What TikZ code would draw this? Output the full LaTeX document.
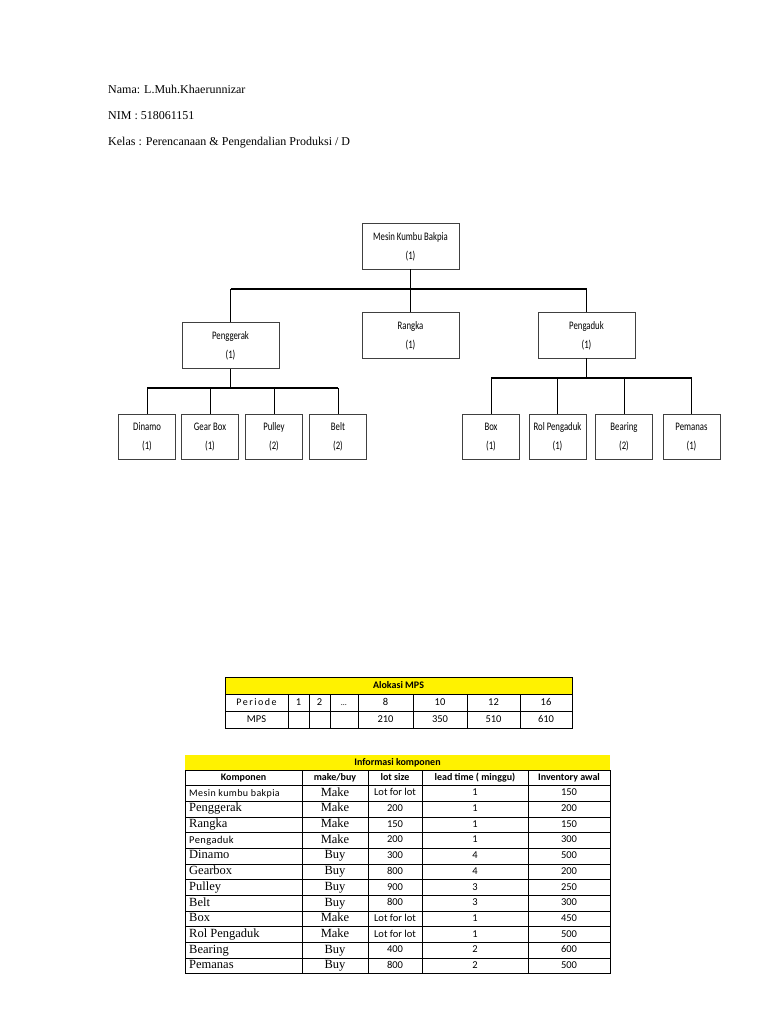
\documentclass[tikz,border=0pt]{standalone}
\usepackage{fontspec}
\setmainfont{Liberation Serif}
\newfontfamily\calibri{Carlito}
\newfontfamily\calibrisp[LetterSpace=4]{Carlito}
\newfontfamily\calibriper[LetterSpace=15]{Carlito}
\newfontfamily\calibrinar[FakeStretch=0.76]{Carlito}
\tikzset{
  part/.style={draw=black!75, line width=0.8pt, align=center, inner sep=0pt,
    font=\calibrinar\fontsize{11.5}{19}\selectfont},
  bigpart/.style={part, minimum width=97pt, minimum height=46pt},
  leaf/.style={part, minimum width=57pt, minimum height=45pt},
  stem/.style={line width=0.8pt},
  bus/.style={line width=1.7pt},
  cell/.style={inner sep=0pt, text height=7pt, text depth=2pt,
    font=\calibri\fontsize{10.5}{12}\selectfont},
  hcell/.style={cell, font=\calibri\bfseries\fontsize{10}{12}\selectfont},
  tcell/.style={inner sep=0pt, text height=8.5pt, text depth=3pt,
    font=\fontsize{12.5}{14}\selectfont},
  grid/.style={line width=0.7pt}
}
\begin{document}
\begin{tikzpicture}[x=1pt,y=-1pt]
  \useasboundingbox[fill=white] (0,0) rectangle (768,1024);

  % identitas
  \node[anchor=west, inner sep=0pt, font=\fontsize{12}{14}\selectfont] (nama) at (108,89) {Nama: L.Muh.Khaerunnizar};
  \node[anchor=west, inner sep=0pt, font=\fontsize{12}{14}\selectfont] (nim) at (108,116) {NIM : 518061151};
  \node[anchor=west, inner sep=0pt, font=\fontsize{12}{14}\selectfont] (kelas) at (108,143) {Kelas : Perencanaan \& Pengendalian Produksi / D};

  % struktur produk
  \node[bigpart] (mesin) at (410.5,246) {\strut Mesin Kumbu Bakpia\\\strut(1)};
  \node[bigpart] (penggerak) at (230.5,345.5) {\strut Penggerak\\\strut(1)};
  \node[bigpart] (rangka) at (410.5,335) {\strut Rangka\\\strut(1)};
  \node[bigpart] (pengaduk) at (586.5,335) {\strut Pengaduk\\\strut(1)};
  \foreach \n/\t/\q/\x in {dinamo/Dinamo/1/147, gearbox/Gear Box/1/210, pulley/Pulley/2/274, belt/Belt/2/338,
      box/Box/1/491, rol/Rol Pengaduk/1/557.5, bearing/Bearing/2/624, pemanas/Pemanas/1/691.5} {
    \node[leaf] (\n) at (\x,436.5) {\strut\t\\\strut(\q)};
  }

  % garis penghubung
  \coordinate (bus0) at (0,289);
  \coordinate (bus1) at (0,388);
  \coordinate (bus2) at (0,378);
  \draw[stem] (mesin.south) -- (rangka.north);
  \draw[stem] (penggerak.north) -- (penggerak.north |- bus0);
  \draw[stem] (pengaduk.north) -- (pengaduk.north |- bus0);
  \draw[bus] (penggerak.north |- bus0) -- (pengaduk.north |- bus0);
  \draw[stem] (penggerak.south) -- (penggerak.south |- bus1);
  \foreach \n in {dinamo,gearbox,pulley,belt} {
    \draw[stem] (\n.north) -- (\n.north |- bus1);
  }
  \draw[bus] (dinamo.north |- bus1) -- (belt.north |- bus1);
  \draw[stem] (pengaduk.south) -- (pengaduk.south |- bus2);
  \foreach \n in {box,rol,bearing,pemanas} {
    \draw[stem] (\n.north) -- (\n.north |- bus2);
  }
  \draw[bus] (box.north |- bus2) -- (pemanas.north |- bus2);

  % tabel alokasi MPS
  \fill[yellow] (225,677) rectangle (572,694);
  \draw[grid] (225,677) rectangle (572,728);
  \draw[grid] (225,694) -- (572,694);
  \draw[grid] (225,711) -- (572,711);
  \foreach \x in {288,309,330,358,413,467,520} {
    \draw[grid] (\x,694) -- (\x,728);
  }
  \node[hcell] (alokasi) at (398.5,685.5) {Alokasi MPS};
  \node[cell, font=\calibriper\fontsize{10}{12}\selectfont] (periode) at (256.5,702.5) {Periode};
  \node[cell] (mps) at (256.5,719.5) {MPS};
  \node[cell] (p1) at (298.5,702.5) {1};
  \node[cell] (p2) at (319.5,702.5) {2};
  \node[cell, font=\calibri\fontsize{8}{10}\selectfont] (pdots) at (344,702.5) {\dots};
  \foreach \p/\m/\x in {8/210/385.5, 10/350/440, 12/510/493.5, 16/610/546} {
    \node[cell] (p\p) at (\x,702.5) {\p};
    \node[cell] (m\p) at (\x,719.5) {\m};
  }

  % tabel informasi komponen
  \fill[yellow] (185,755) rectangle (610,770);
  \node[hcell] (info) at (397.5,762.5) {Informasi komponen};
  \draw[grid, line width=1pt] (185,770) rectangle (610,973.9);
  \foreach \r in {0,...,11} {
    \draw[grid] (185,{785.5+\r*15.7}) -- (610,{785.5+\r*15.7});
  }
  \foreach \x in {302,368,422,528} {
    \draw[grid] (\x,770) -- (\x,973.9);
  }
  \node[hcell] (hkom) at (243.5,777.7) {Komponen};
  \node[hcell] (hmb) at (335,777.7) {make/buy};
  \node[hcell] (hlot) at (395,777.7) {lot size};
  \node[hcell] (hlead) at (475,777.7) {lead time ( minggu)};
  \node[hcell] (hinv) at (569,777.7) {Inventory awal};
  \foreach \kom/\mb/\lot/\lead/\inv [count=\r] in {
      {\calibrisp\fontsize{10}{12}\selectfont Mesin kumbu bakpia}/Make/Lot for lot/1/150,
      Penggerak/Make/200/1/200,
      Rangka/Make/150/1/150,
      {\calibrisp\fontsize{10.5}{12}\selectfont Pengaduk}/Make/200/1/300,
      Dinamo/Buy/300/4/500,
      Gearbox/Buy/800/4/200,
      Pulley/Buy/900/3/250,
      Belt/Buy/800/3/300,
      Box/Make/Lot for lot/1/450,
      Rol Pengaduk/Make/Lot for lot/1/500,
      Bearing/Buy/400/2/600,
      Pemanas/Buy/800/2/500} {
    \pgfmathsetmacro{\yy}{785.5+(\r-0.5)*15.7}
    \node[tcell, anchor=west] (kom\r) at (189,\yy) {\kom};
    \node[tcell] (mb\r) at (335,\yy) {\mb};
    \node[cell] (lot\r) at (395,\yy) {\lot};
    \node[cell] (lead\r) at (475,\yy) {\lead};
    \node[cell] (inv\r) at (569,\yy) {\inv};
  }
\end{tikzpicture}
\end{document}
